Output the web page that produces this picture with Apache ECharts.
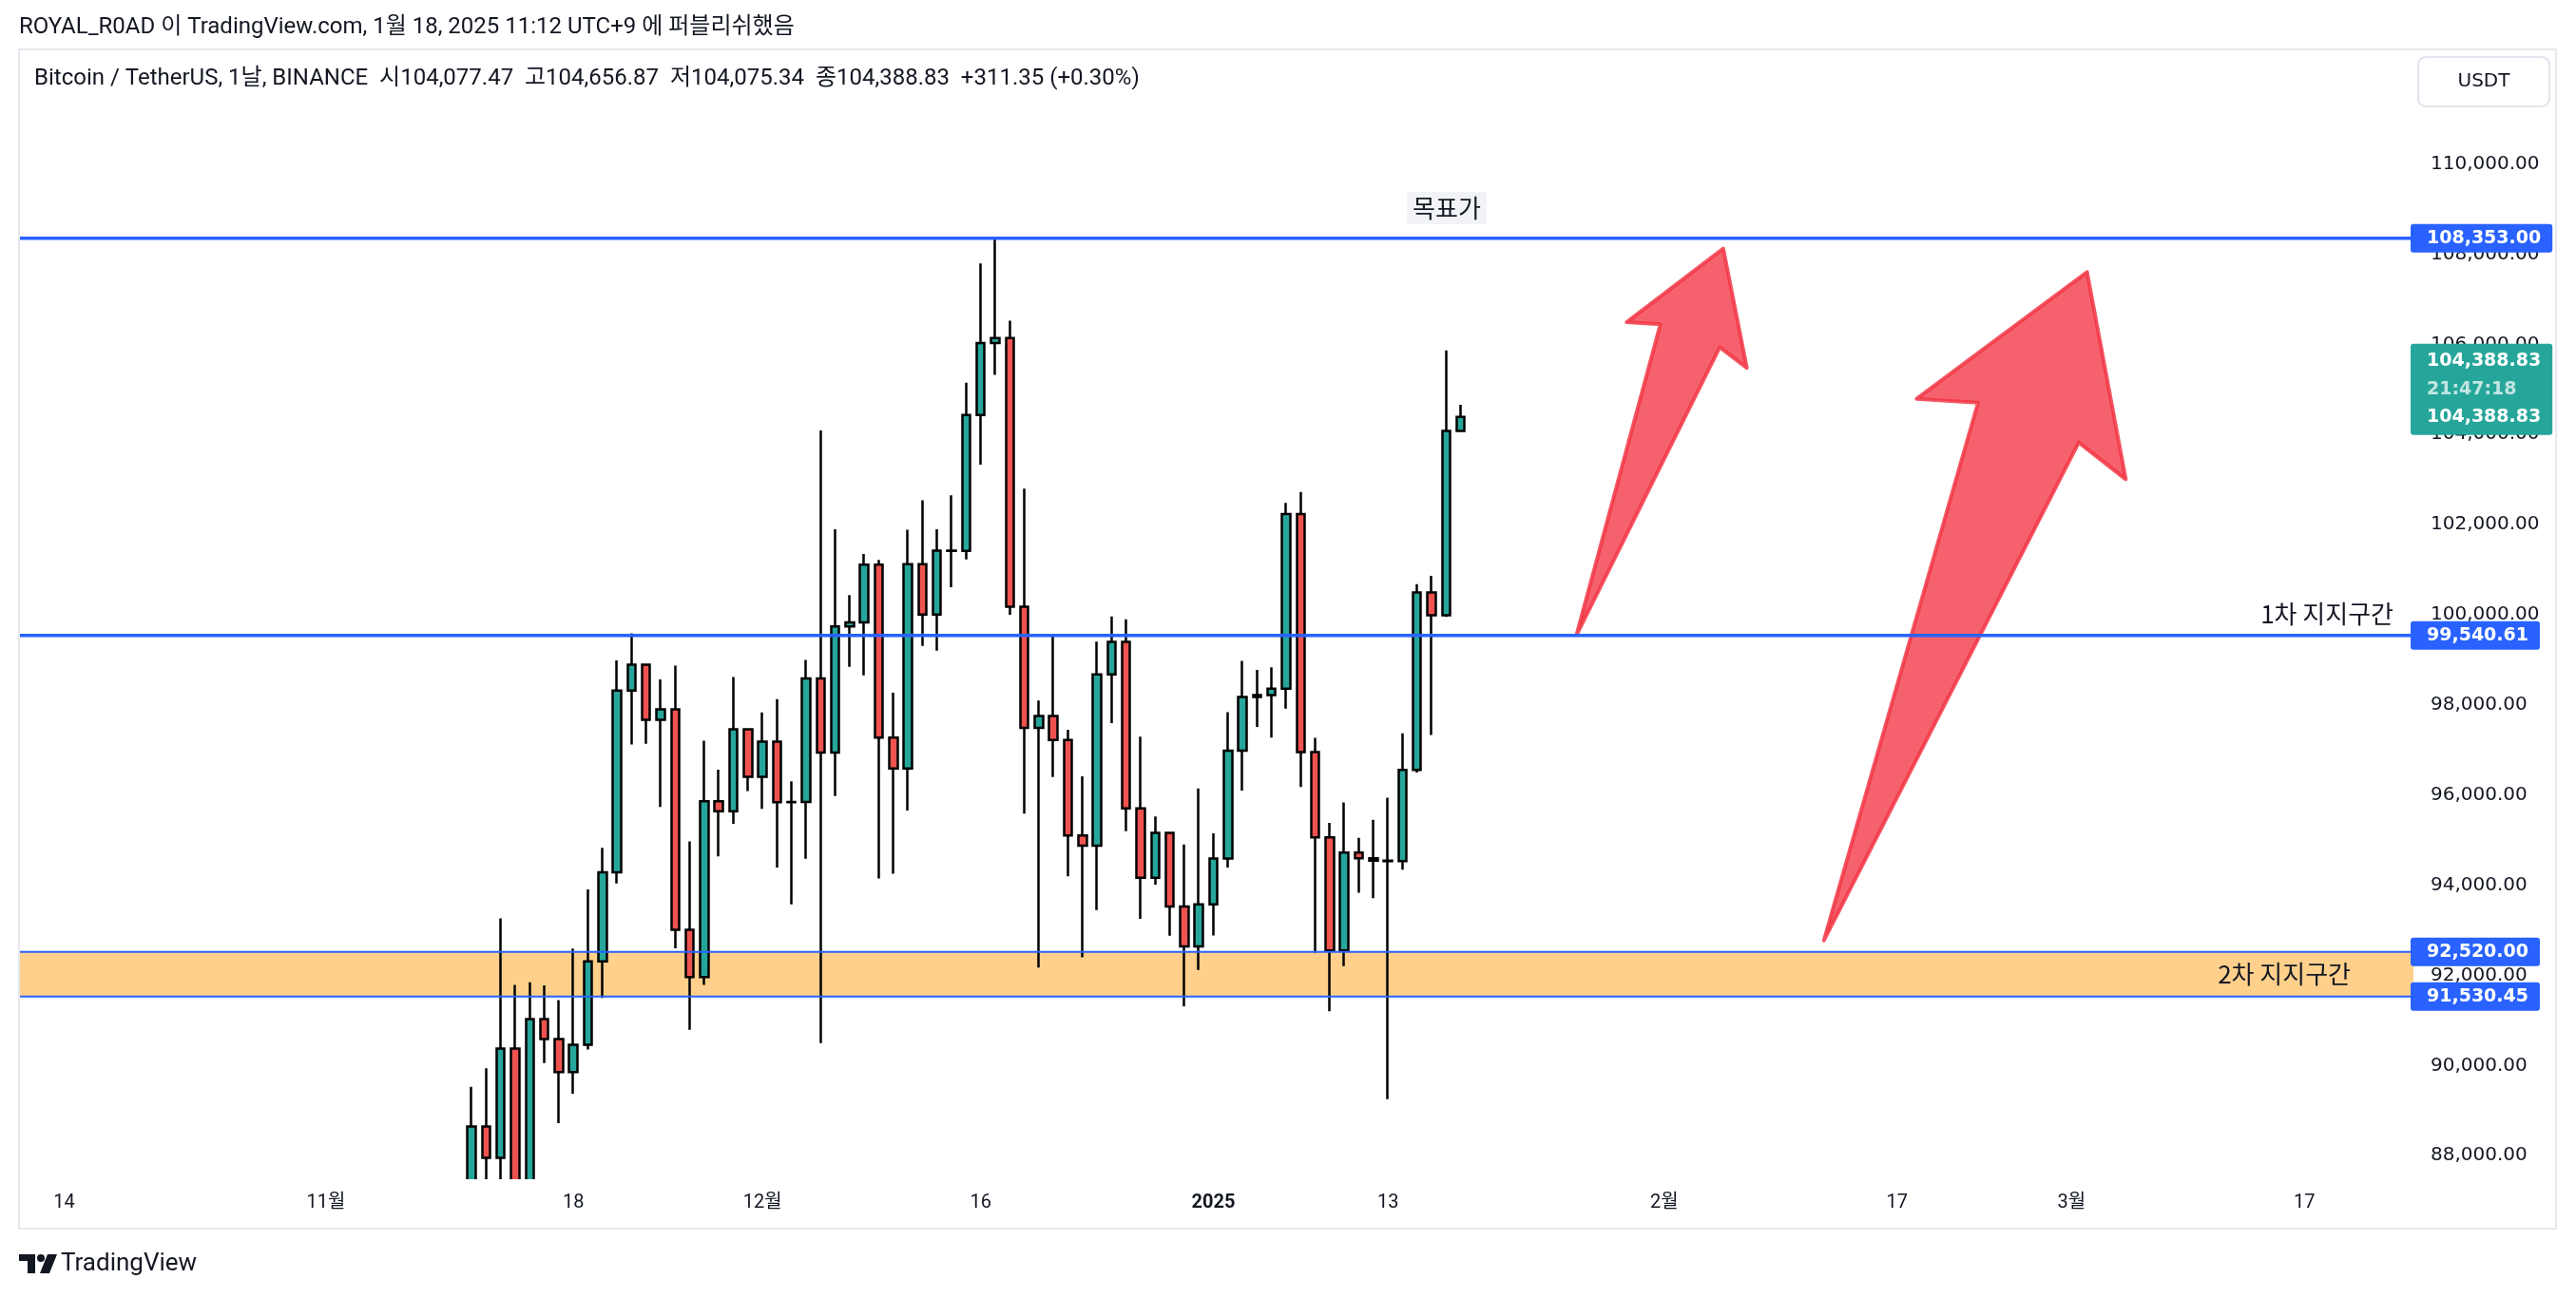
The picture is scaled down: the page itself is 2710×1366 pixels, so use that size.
<!DOCTYPE html>
<html>
<head>
<meta charset="utf-8">
<script src="https://cdn.jsdelivr.net/npm/echarts@6/dist/echarts.min.js"></script>
<style>
  html, body { margin: 0; padding: 0; background: #fff; }
  #chart { width: 2710px; height: 1366px; }
</style>
</head>
<body>
<div id="chart"></div>
<script>
// BTCUSDT daily candles from 2024-11-11 to 2025-01-18
var firstCandle = '2024-11-11';
var opens = [80370.01, 88648.00, 87952.00, 90375.21, 87325.59, 91032.08, 90587.98, 89855.98, 90464.07, 92310.80,
  94286.56, 98317.12, 98892.00, 97672.40, 97900.05, 93010.01, 91965.16, 95863.11, 95643.99, 97460.00,
  96407.99, 97185.17, 95840.61, 95849.69, 98587.32, 96945.63, 99740.84, 99831.99, 101109.60, 97276.48,
  96593.01, 101125.00, 100004.29, 101424.24, 101420.00, 104430.00, 106029.72, 106140.60, 100180.00, 97490.94,
  97755.93, 97225.00, 95104.94, 94880.00, 98676.10, 99400.00, 95705.02, 94164.86, 95163.94, 93530.24,
  92643.21, 93576.00, 94591.78, 96984.79, 98174.17, 98220.51, 98363.61, 102235.60, 96954.60, 95060.61,
  92552.49, 94726.10, 94599.99, 94545.07, 94536.11, 96560.85, 100497.35, 99987.30, 104077.47];
var highs = [89530.54, 89940.00, 93265.64, 91790.00, 91850.00, 91779.66, 91449.99, 92594.00, 93905.51, 94831.97,
  98988.00, 99588.01, 98908.85, 98564.00, 98871.80, 94973.37, 97208.21, 96564.00, 98619.99, 97463.95,
  97836.00, 98130.00, 96305.52, 99000.00, 104088.00, 101898.99, 100439.18, 101351.00, 101215.93, 98270.00,
  101888.00, 102540.00, 101895.26, 102650.00, 105150.00, 107793.07, 108353.00, 106524.98, 102800.11, 98098.91,
  99540.61, 97448.08, 96416.00, 99404.00, 99963.48, 99900.00, 97294.84, 95525.00, 95174.87, 94903.32,
  96150.00, 95151.15, 97839.50, 98976.91, 98778.43, 98836.85, 102480.00, 102724.38, 97268.65, 95382.32,
  95836.00, 95050.94, 95450.10, 95940.00, 97371.00, 100681.94, 100866.66, 105865.22, 104656.87];
var lows = [80216.01, 85072.00, 86127.99, 86668.21, 87073.38, 90056.17, 88722.00, 89376.90, 90357.00, 91500.00,
  94040.00, 97122.11, 97136.00, 95734.77, 92600.19, 90791.10, 91792.14, 94640.00, 95364.99, 96092.01,
  95693.88, 94395.00, 93578.17, 94587.83, 90500.00, 95981.72, 98844.00, 98657.70, 94150.05, 94256.54,
  95658.24, 99311.64, 99205.00, 100609.41, 101230.00, 103333.00, 105321.49, 100000.00, 95587.77, 92175.18,
  96398.39, 94200.00, 92403.20, 93448.00, 97595.00, 95199.00, 93253.44, 94014.29, 92881.79, 91317.10,
  92120.00, 92888.00, 94392.00, 96100.01, 97514.79, 97276.79, 97920.00, 96181.81, 92500.90, 91203.67,
  92206.02, 93831.73, 93711.19, 89256.69, 94346.22, 96500.00, 97335.13, 99950.77, 104075.34];
var closes = [88647.99, 87952.01, 90375.20, 87325.59, 91032.07, 90586.92, 89855.99, 90464.08, 92310.79, 94286.56,
  98317.12, 98892.00, 97672.40, 97900.04, 93010.01, 91965.16, 95863.11, 95643.98, 97460.00, 96407.99,
  97185.18, 95840.62, 95849.69, 98587.32, 96945.63, 99740.84, 99831.99, 101109.59, 97276.47, 96593.00,
  101125.00, 100004.29, 101424.25, 101420.00, 104430.00, 106029.72, 106140.60, 100180.00, 97490.95, 97755.93,
  97224.99, 95104.93, 94880.00, 98676.09, 99400.00, 95705.02, 94164.86, 95163.93, 93530.23, 92643.21,
  93576.00, 94591.79, 96984.79, 98174.18, 98220.50, 98363.61, 102235.60, 96954.61, 95060.61, 92552.49,
  94726.11, 94599.99, 94545.06, 94536.10, 96560.86, 100497.35, 99987.30, 104077.48, 104388.83];

// time axis range and the labels TradingView shows
var axisStart = '2024-10-11';
var axisEnd = '2025-03-24';
var tickDates = ['2024-10-14', '2024-11-01', '2024-11-18', '2024-12-01', '2024-12-16', '2025-01-01',
  '2025-01-13', '2025-02-01', '2025-02-17', '2025-03-01', '2025-03-17'];
var tickTexts = ['14', '11월', '18', '12월', '16', '2025', '13', '2월', '17', '3월', '17'];

// drawn price levels
var levelPrices = [108353.00, 99540.61, 92520.00, 91530.45];
var levelThick = [true, true, false, false];
var zoneBand = [92520.00, 91530.45];
var lastPrice = 104388.83;
var countdown = '21:47:18';

// the two drawn arrows, in (day index, price)
var arrowDays = [
  [106.97, 112.73, 110.41, 117.05, 118.67, 116.81],
  [123.97, 134.57, 130.35, 142.06, 144.72, 141.49]
];
var arrowPrices = [
  [99555, 106446, 106490, 108122, 105476, 105938],
  [92776, 104705, 104791, 107603, 103006, 103822]
];

// text notes
var noteTexts = ['목표가', '1차 지지구간', '2차 지지구간'];
var noteDays = [98.04, 163.13, 160.19];
var notePrices = [109022, 100021, 92025];
var noteAlign = ['center', 'right', 'right'];

function fmt(v) {
  var p = v.toFixed(2).split('.');
  p[0] = p[0].replace(/\B(?=(\d{3})+(?!\d))/g, ',');
  return p.join('.');
}
function dayStr(d) {
  return d.toISOString().slice(0, 10);
}

// build category days and candle data
var days = [];
var t = new Date(axisStart + 'T00:00:00Z');
var tEnd = new Date(axisEnd + 'T00:00:00Z');
while (t <= tEnd) {
  days.push(dayStr(t));
  t = new Date(t.getTime() + 86400000);
}
var firstIdx = days.indexOf(firstCandle);
var candleData = days.map(function (d, i) {
  var k = i - firstIdx;
  if (k < 0 || k >= opens.length) return '-';
  return [opens[k], closes[k], lows[k], highs[k]];
});

var FONT = 'Roboto, "Noto Sans CJK KR", sans-serif';
var TEXT = '#131722';
var BLUE = '#2962ff';

var myChart = echarts.init(document.getElementById('chart'));

var option = {
  animation: false,
  backgroundColor: '#fff',
  grid: { left: 14, right: 171, top: 54, bottom: 126, show: false },
  xAxis: [{
    type: 'category',
    data: days,
    boundaryGap: true,
    z: 60,
    axisLine: { show: false },
    axisTick: { show: false },
    splitLine: { show: false },
    axisLabel: {
      interval: function (i, v) { return tickDates.indexOf(v) >= 0; },
      formatter: function (v) {
        var s = tickTexts[tickDates.indexOf(v)];
        return /^\d{4}$/.test(s) ? '{b|' + s + '}' : s;
      },
      margin: 16,
      color: TEXT,
      fontSize: 20,
      fontFamily: FONT,
      rich: { b: { fontWeight: 'bold', fontSize: 20, fontFamily: FONT, color: TEXT } }
    }
  }, {
    type: 'value',
    show: false,
    min: -0.5,
    max: days.length - 0.5
  }],
  yAxis: {
    type: 'value',
    position: 'right',
    min: 87500,
    max: 112500,
    interval: 500,
    axisLine: { show: false },
    axisTick: { show: false },
    splitLine: { show: false },
    axisLabel: {
      margin: 18,
      color: TEXT,
      fontSize: 20,
      fontFamily: '"DejaVu Sans", sans-serif',
      formatter: function (v) {
        if (v % 2000 !== 0 || v > 110000) return '';
        return fmt(v);
      }
    }
  },
  series: [{
    // orange support zone
    type: 'custom',
    xAxisIndex: 1,
    z: 1,
    data: [[0, zoneBand[0], zoneBand[1]]],
    renderItem: function (params, api) {
      var cs = params.coordSys;
      var y1 = api.coord([0, api.value(1)])[1];
      var y2 = api.coord([0, api.value(2)])[1];
      return {
        type: 'rect',
        shape: { x: cs.x + 6, y: y1, width: cs.width - 6, height: y2 - y1 },
        style: { fill: '#fed08b' }
      };
    }
  }, {
    type: 'candlestick',
    xAxisIndex: 0,
    z: 2,
    data: candleData,
    barWidth: 9,
    itemStyle: {
      color: '#26a69a',
      color0: '#ef5350',
      borderColor: '#000',
      borderColor0: '#000',
      borderColorDoji: '#000',
      borderWidth: 2.5
    }
  }, {
    // horizontal lines with price tags
    type: 'custom',
    xAxisIndex: 1,
    z: 5,
    clip: false,
    data: levelPrices.map(function (p, i) { return [i, p]; }),
    renderItem: function (params, api) {
      var cs = params.coordSys;
      var y = api.coord([0, api.value(1)])[1];
      var thick = levelThick[params.dataIndex];
      return {
        type: 'group',
        children: [{
          type: 'line',
          shape: { x1: cs.x + 6, y1: y, x2: cs.x + cs.width, y2: y },
          style: { stroke: BLUE, lineWidth: thick ? 3.5 : 2 }
        }, {
          type: 'text',
          x: cs.x + cs.width - 3,
          y: y,
          z2: 10,
          style: {
            text: fmt(api.value(1)),
            align: 'left',
            verticalAlign: 'middle',
            fill: '#fff',
            font: 'bold 19px "DejaVu Sans", sans-serif',
            backgroundColor: BLUE,
            padding: [6, 12, 5, 17],
            borderRadius: 3
          }
        }]
      };
    }
  }, {
    // arrows
    type: 'custom',
    xAxisIndex: 1,
    z: 4,
    data: arrowDays.map(function (a, i) { return [i]; }),
    renderItem: function (params, api) {
      var i = params.dataIndex;
      var pts = arrowDays[i].map(function (d, k) { return api.coord([d, arrowPrices[i][k]]); });
      return {
        type: 'polygon',
        shape: { points: pts },
        style: {
          fill: 'rgba(242, 54, 69, 0.78)',
          stroke: 'rgba(242, 54, 69, 0.85)',
          lineWidth: 4,
          lineJoin: 'round'
        }
      };
    }
  }, {
    // notes
    type: 'custom',
    xAxisIndex: 1,
    z: 6,
    data: noteDays.map(function (d, i) { return [d, notePrices[i]]; }),
    renderItem: function (params, api) {
      var i = params.dataIndex;
      var pt = api.coord([api.value(0), api.value(1)]);
      var st = {
        text: noteTexts[i],
        align: noteAlign[i],
        verticalAlign: 'middle',
        fill: TEXT,
        font: '26px "Noto Sans CJK KR", sans-serif'
      };
      if (i === 0) {
        st.backgroundColor = '#f2f3f6';
        st.padding = [4, 6, 4, 6];
      }
      return { type: 'text', x: pt[0], y: pt[1], style: st };
    }
  }, {
    // last price tag with countdown
    type: 'custom',
    xAxisIndex: 1,
    z: 6,
    clip: false,
    data: [[0, lastPrice]],
    renderItem: function (params, api) {
      var cs = params.coordSys;
      var y = api.coord([0, api.value(1)])[1];
      var p = fmt(api.value(1));
      return {
        type: 'text',
        x: cs.x + cs.width - 3,
        y: y - 77,
        z2: 10,
        style: {
          text: '{p|' + p + '}\n{t|' + countdown + '}\n{p|' + p + '}',
          align: 'left',
          verticalAlign: 'top',
          backgroundColor: '#26a69a',
          padding: [3, 12, 3, 17],
          borderRadius: 3,
          rich: {
            p: { fill: '#fff', font: 'bold 19px "DejaVu Sans", sans-serif', lineHeight: 31 },
            t: { fill: 'rgba(255,255,255,0.72)', font: 'bold 19px "DejaVu Sans", sans-serif', lineHeight: 28 }
          }
        }
      };
    }
  }],
  graphic: [{
    type: 'text', x: 20, y: 29,
    style: {
      text: 'ROYAL_R0AD 이 TradingView.com, 1월 18, 2025 11:12 UTC+9 에 퍼블리쉬했음',
      fill: TEXT, font: '24px ' + FONT, verticalAlign: 'middle'
    }
  }, {
    // white strip under the plot so candles are cut at the time scale
    type: 'rect', z: 50,
    shape: { x: 0, y: 1241, width: 2710, height: 125 },
    style: { fill: '#fff' }
  }, {
    type: 'rect', z: 51,
    shape: { x: 20, y: 52, width: 2669, height: 1241 },
    style: { fill: 'none', stroke: '#e6e8ee', lineWidth: 2 }
  }, {
    type: 'text', x: 36, y: 83,
    style: {
      text: 'Bitcoin / TetherUS, 1날, BINANCE  시104,077.47  고104,656.87  저104,075.34  종104,388.83  +311.35 (+0.30%)',
      fill: TEXT, font: '24px ' + FONT, verticalAlign: 'middle'
    }
  }, {
    type: 'rect',
    shape: { x: 2544, y: 60, width: 138, height: 52, r: 8 },
    style: { fill: '#fff', stroke: '#e0e3eb', lineWidth: 2 }
  }, {
    type: 'text', x: 2613, y: 86,
    style: { text: 'USDT', fill: TEXT, font: '20px "DejaVu Sans", sans-serif', align: 'center', verticalAlign: 'middle' }
  }, {
    // TradingView logo
    type: 'group', z: 52,
    children: [
      { type: 'rect', z: 52, shape: { x: 20, y: 1320, width: 17, height: 7 }, style: { fill: TEXT } },
      { type: 'rect', z: 52, shape: { x: 29, y: 1320, width: 8, height: 20 }, style: { fill: TEXT } },
      { type: 'circle', z: 52, shape: { cx: 43, cy: 1324, r: 4 }, style: { fill: TEXT } },
      { type: 'polygon', z: 52, shape: { points: [[50, 1320], [60, 1320], [52, 1340], [42, 1340]] }, style: { fill: TEXT } },
      {
        type: 'text', z: 52, x: 64, y: 1330,
        style: { text: 'TradingView', fill: TEXT, font: '26px ' + FONT, verticalAlign: 'middle' }
      }
    ]
  }]
};

myChart.setOption(option);
</script>
</body>
</html>
